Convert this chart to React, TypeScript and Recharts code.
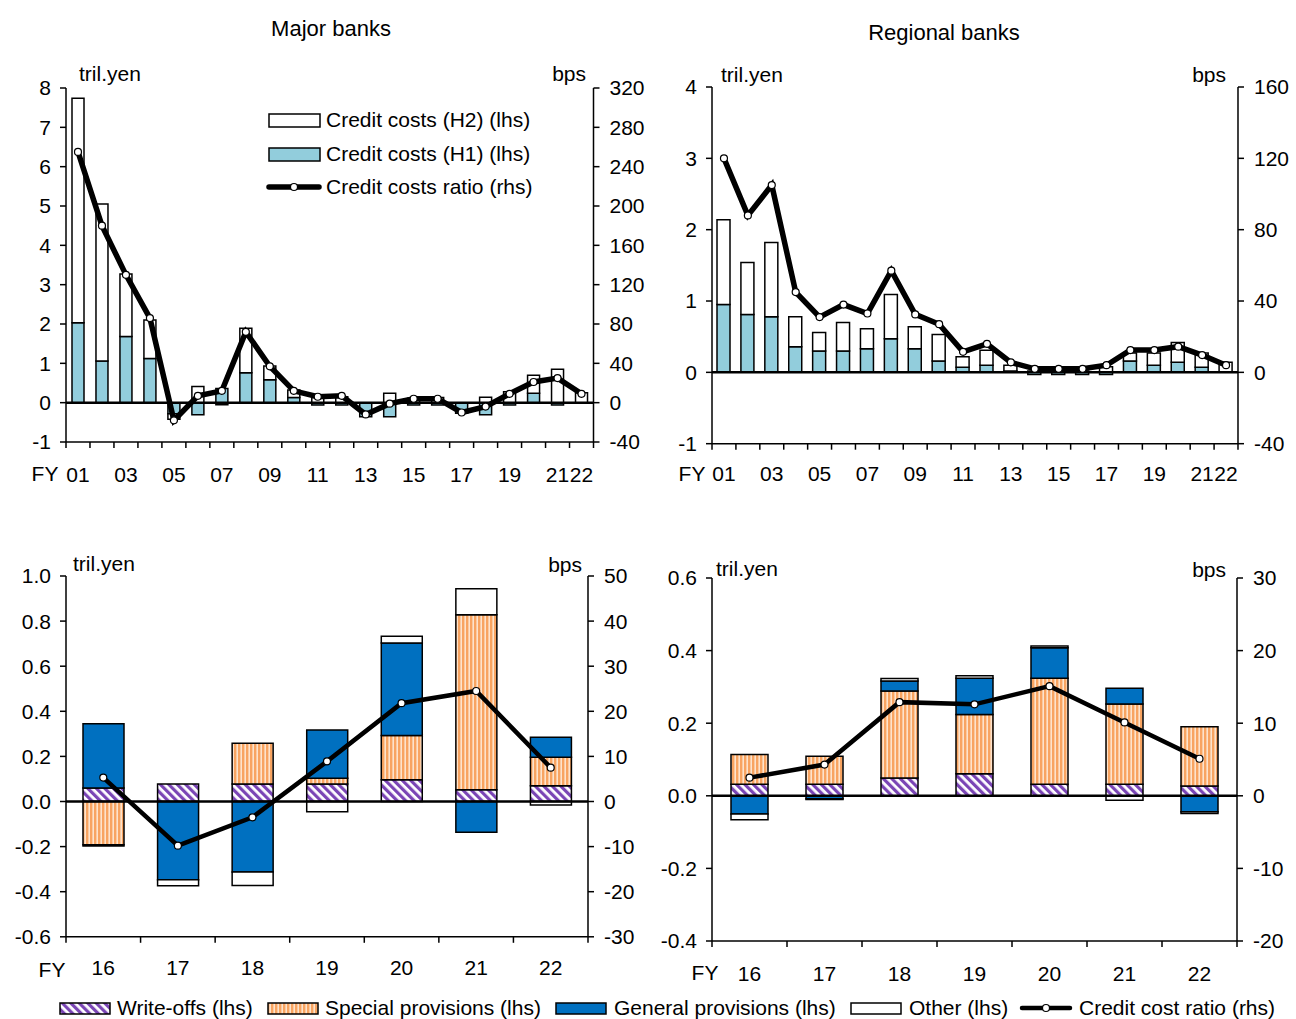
import React from 'react';
import { ComposedChart, Bar, Line, XAxis, YAxis, ReferenceLine } from 'recharts';

const FONT = '"Liberation Sans", Arial, sans-serif';

// ---------- Data: top panels (FY01-FY22) ----------
const fyLong = ['01', '02', '03', '04', '05', '06', '07', '08', '09', '10', '11', '12', '13', '14', '15', '16', '17', '18', '19', '20', '21', '22'];
const majorH1 = [2.03, 1.06, 1.68, 1.12, -0.28, -0.31, 0.36, 0.76, 0.58, 0.13, -0.06, -0.06, -0.36, -0.36, -0.06, -0.06, -0.27, -0.31, -0.06, 0.24, -0.06, 0.0];
const majorH2 = [5.71, 3.99, 1.59, 0.98, -0.14, 0.41, -0.05, 1.13, 0.35, 0.19, 0.13, 0.15, 0.0, 0.24, 0.11, 0.13, 0.0, 0.14, 0.28, 0.46, 0.85, 0.25];
const majorRatio = [255, 180, 130, 86, -18, 7, 12, 72, 37, 12, 6, 7, -12, -1, 4, 4, -10, -4, 9, 21, 25, 9];

const regionalH1 = [0.95, 0.81, 0.78, 0.36, 0.3, 0.3, 0.33, 0.47, 0.33, 0.16, 0.07, 0.1, 0.02, -0.03, -0.03, -0.03, -0.03, 0.16, 0.1, 0.14, 0.07, 0.0];
const regionalH2 = [1.19, 0.73, 1.04, 0.42, 0.26, 0.4, 0.28, 0.62, 0.31, 0.37, 0.15, 0.21, 0.08, 0.02, 0.02, 0.02, 0.08, 0.11, 0.17, 0.28, 0.2, 0.14];
const regionalRatio = [120, 88, 105, 45, 31, 38, 33, 57, 32.5, 27, 11.5, 16, 5.6, 2, 2, 2, 4, 12.5, 12.5, 14.4, 9.7, 4];

// ---------- Data: bottom panels (FY16-FY22) ----------
const fyShort = ['16', '17', '18', '19', '20', '21', '22'];
const majorWriteOffs = [0.06, 0.078, 0.078, 0.078, 0.096, 0.052, 0.07];
const majorSpecial = [-0.192, 0.0, 0.18, 0.025, 0.197, 0.776, 0.126];
const majorGeneral = [0.285, -0.347, -0.313, 0.214, 0.41, -0.136, 0.089];
const majorOther = [-0.005, -0.027, -0.06, -0.045, 0.03, 0.115, -0.015];
const majorCostRatio = [5.3, -9.8, -3.5, 8.9, 21.8, 24.5, 7.5];

const regionalWriteOffs = [0.032, 0.032, 0.049, 0.061, 0.032, 0.032, 0.027];
const regionalSpecial = [0.082, 0.077, 0.24, 0.163, 0.292, 0.221, 0.163];
const regionalGeneral = [-0.05, -0.008, 0.027, 0.1, 0.084, 0.043, -0.044];
const regionalOther = [-0.016, -0.002, 0.007, 0.007, 0.005, -0.012, -0.005];
const regionalCostRatio = [2.5, 4.3, 12.9, 12.6, 15.1, 10.1, 5.1];

// ---------- Axis ticks ----------
const tlLeftTicks = [-1, 0, 1, 2, 3, 4, 5, 6, 7, 8];
const tlRightTicks = [-40, 0, 40, 80, 120, 160, 200, 240, 280, 320];
const trLeftTicks = [-1, 0, 1, 2, 3, 4];
const trRightTicks = [-40, 0, 40, 80, 120, 160];
const blLeftTicks = [-0.6, -0.4, -0.2, 0, 0.2, 0.4, 0.6, 0.8, 1.0];
const blRightTicks = [-30, -20, -10, 0, 10, 20, 30, 40, 50];
const brLeftTicks = [-0.4, -0.2, 0, 0.2, 0.4, 0.6];
const brRightTicks = [-20, -10, 0, 10, 20, 30];
const longLabelsShown = ['01', '03', '05', '07', '09', '11', '13', '15', '17', '19', '21', '22'];

const majorTop = fyLong.map((y, i) => ({ year: y, h1: majorH1[i], h2: majorH2[i], ratio: majorRatio[i] }));
const regionalTop = fyLong.map((y, i) => ({ year: y, h1: regionalH1[i], h2: regionalH2[i], ratio: regionalRatio[i] }));
const majorBottom = fyShort.map((y, i) => ({
  year: y, wo: majorWriteOffs[i], sp: majorSpecial[i], gp: majorGeneral[i], ot: majorOther[i], ratio: majorCostRatio[i],
}));
const regionalBottom = fyShort.map((y, i) => ({
  year: y, wo: regionalWriteOffs[i], sp: regionalSpecial[i], gp: regionalGeneral[i], ot: regionalOther[i], ratio: regionalCostRatio[i],
}));

const H1_COLOR = '#92CDDC';
const GEN_COLOR = '#0070C0';

type BarDef = { key: string; fill: string };

type PanelProps = {
  left: number; right: number; top: number; bottom: number;
  data: any[];
  leftDomain: [number, number]; leftTicks: number[];
  rightDomain: [number, number]; rightTicks: number[];
  fmt?: (v: number) => string;
  bars: BarDef[];
  barSize: number;
  lineWidth: number;
  labelDy: number;
  shown: string[];
};

const Panel = (p: PanelProps) => {
  const padX = 60;
  const padTop = 20;
  const padBottom = 50;
  const plotW = p.right - p.left;
  const plotH = p.bottom - p.top;
  const width = plotW + padX * 2;
  const height = plotH + padTop + padBottom;
  const n = p.data.length;
  const band = plotW / n;

  const XTick = (props: any) => {
    const { x, y, payload, index } = props;
    return (
      <g>
        <line x1={x - band / 2} x2={x - band / 2} y1={y} y2={y + 6} stroke="#000" strokeWidth={1.5} />
        {index === n - 1 && <line x1={x + band / 2} x2={x + band / 2} y1={y} y2={y + 6} stroke="#000" strokeWidth={1.5} />}
        {p.shown.includes(payload.value) && (
          <text x={x} y={y + p.labelDy} textAnchor="middle" dominantBaseline="central" fontSize={21} fill="#000" fontFamily={FONT}>
            {payload.value}
          </text>
        )}
      </g>
    );
  };

  const tickStyle = { fontSize: 21, fill: '#000', fontFamily: FONT };

  return (
    <div style={{ position: 'absolute', left: p.left - padX, top: p.top - padTop }}>
      <ComposedChart
        width={width}
        height={height}
        data={p.data}
        stackOffset="sign"
        margin={{ top: padTop, right: 0, bottom: 0, left: 0 }}
      >
        <XAxis
          dataKey="year"
          height={padBottom}
          interval={0}
          tickSize={0}
          tickMargin={0}
          tickLine={false}
          axisLine={{ stroke: '#000', strokeWidth: 1.5 }}
          tick={<XTick />}
        />
        <YAxis
          yAxisId="left"
          orientation="left"
          width={padX}
          domain={p.leftDomain}
          ticks={p.leftTicks}
          interval={0}
          allowDataOverflow
          tickFormatter={p.fmt}
          tick={tickStyle}
          tickSize={6}
          tickMargin={9}
          axisLine={{ stroke: '#000', strokeWidth: 1.5 }}
          tickLine={{ stroke: '#000', strokeWidth: 1.5 }}
        />
        <YAxis
          yAxisId="right"
          orientation="right"
          width={padX}
          domain={p.rightDomain}
          ticks={p.rightTicks}
          interval={0}
          allowDataOverflow
          tick={tickStyle}
          tickSize={6}
          tickMargin={10}
          axisLine={{ stroke: '#000', strokeWidth: 1.5 }}
          tickLine={{ stroke: '#000', strokeWidth: 1.5 }}
        />
        {p.bars.map((b) => (
          <Bar
            key={b.key}
            dataKey={b.key}
            stackId="a"
            yAxisId="left"
            fill={b.fill}
            stroke="#000"
            strokeWidth={1.5}
            barSize={p.barSize}
            isAnimationActive={false}
          />
        ))}
        <ReferenceLine y={0} yAxisId="left" stroke="#000" strokeWidth={2.5} />
        <Line
          type="linear"
          dataKey="ratio"
          yAxisId="right"
          stroke="#000"
          strokeWidth={p.lineWidth}
          dot={{ r: 3.5, fill: '#fff', stroke: '#000', strokeWidth: 1.2 }}
          activeDot={false}
          isAnimationActive={false}
        />
      </ComposedChart>
    </div>
  );
};

const Txt = ({ x, y, children, size = 21, anchor = 'left' }: any) => {
  const style: React.CSSProperties = {
    position: 'absolute',
    top: y - 14,
    height: 28,
    lineHeight: '28px',
    fontSize: size,
    fontFamily: FONT,
    color: '#000',
    whiteSpace: 'nowrap',
  };
  if (anchor === 'left') style.left = x;
  else if (anchor === 'right') style.right = 1296 - x;
  else {
    style.left = x - 200;
    style.width = 400;
    style.textAlign = 'center';
  }
  return <div style={style}>{children}</div>;
};

const Swatch = ({ x, y, fill, w = 50, h = 12 }: any) => (
  <svg style={{ position: 'absolute', left: x, top: y - h / 2 - 1 }} width={w + 2} height={h + 2}>
    <rect x={1} y={1} width={w} height={h} fill={fill} stroke="#000" strokeWidth={1.5} />
  </svg>
);

const LineSwatch = ({ x, y, w = 52, sw = 5 }: any) => (
  <svg style={{ position: 'absolute', left: x, top: y - 8 }} width={w} height={16}>
    <line x1={3} x2={w - 3} y1={8} y2={8} stroke="#000" strokeWidth={sw} strokeLinecap="round" />
    <circle cx={w / 2} cy={8} r={3.5} fill="#fff" stroke="#000" strokeWidth={1.2} />
  </svg>
);

export default function App() {
  const f1 = (v: number) => v.toFixed(1);
  return (
    <div style={{ position: 'absolute', left: 0, top: 0, width: 1296, height: 1019, background: '#fff', overflow: 'hidden' }}>
      <svg width={0} height={0} style={{ position: 'absolute' }}>
        <defs>
          <pattern id="woPat" width={6} height={6} patternUnits="userSpaceOnUse" patternTransform="rotate(-45)">
            <rect width={6} height={6} fill="#fff" />
            <rect width={3.2} height={6} fill="#7A45B5" />
          </pattern>
          <pattern id="spPat" width={4} height={4} patternUnits="userSpaceOnUse">
            <rect width={4} height={4} fill="#FDE3CC" />
            <rect width={2.4} height={4} fill="#F8A461" />
          </pattern>
        </defs>
      </svg>

      {/* Titles */}
      <Txt x={331} y={29} size={22} anchor="center">Major banks</Txt>
      <Txt x={944} y={33} size={22} anchor="center">Regional banks</Txt>

      {/* Top-left */}
      <Panel
        left={65.5} right={593} top={88} bottom={442}
        data={majorTop}
        leftDomain={[-1, 8]} leftTicks={tlLeftTicks}
        rightDomain={[-40, 320]} rightTicks={tlRightTicks}
        bars={[{ key: 'h1', fill: H1_COLOR }, { key: 'h2', fill: '#fff' }]}
        barSize={12}
        lineWidth={5.5}
        labelDy={32}
        shown={longLabelsShown}
      />
      <Txt x={79} y={74}>tril.yen</Txt>
      <Txt x={586} y={74} anchor="right">bps</Txt>
      <Txt x={45} y={474} anchor="center">FY</Txt>

      {/* Top-left legend */}
      <Swatch x={268} y={120} w={51} h={13} fill="#fff" />
      <Txt x={326} y={120}>Credit costs (H2) (lhs)</Txt>
      <Swatch x={268} y={154} w={51} h={13} fill={H1_COLOR} />
      <Txt x={326} y={154}>Credit costs (H1) (lhs)</Txt>
      <LineSwatch x={266} y={187} w={56} sw={5.5} />
      <Txt x={326} y={187}>Credit costs ratio (rhs)</Txt>

      {/* Top-right */}
      <Panel
        left={711.5} right={1237.5} top={87} bottom={443.7}
        data={regionalTop}
        leftDomain={[-1, 4]} leftTicks={trLeftTicks}
        rightDomain={[-40, 160]} rightTicks={trRightTicks}
        bars={[{ key: 'h1', fill: H1_COLOR }, { key: 'h2', fill: '#fff' }]}
        barSize={13}
        lineWidth={5.5}
        labelDy={30}
        shown={longLabelsShown}
      />
      <Txt x={721} y={75}>tril.yen</Txt>
      <Txt x={1226} y={75} anchor="right">bps</Txt>
      <Txt x={692} y={474} anchor="center">FY</Txt>

      {/* Bottom-left */}
      <Panel
        left={65.5} right={587.5} top={576.2} bottom={937}
        data={majorBottom}
        leftDomain={[-0.6, 1.0]} leftTicks={blLeftTicks}
        rightDomain={[-30, 50]} rightTicks={blRightTicks}
        fmt={f1}
        bars={[
          { key: 'wo', fill: 'url(#woPat)' },
          { key: 'sp', fill: 'url(#spPat)' },
          { key: 'gp', fill: GEN_COLOR },
          { key: 'ot', fill: '#fff' },
        ]}
        barSize={41}
        lineWidth={4.5}
        labelDy={31}
        shown={fyShort}
      />
      <Txt x={73} y={564}>tril.yen</Txt>
      <Txt x={582} y={565} anchor="right">bps</Txt>
      <Txt x={52} y={970} anchor="center">FY</Txt>

      {/* Bottom-right */}
      <Panel
        left={711.7} right={1236.7} top={577.9} bottom={940.9}
        data={regionalBottom}
        leftDomain={[-0.4, 0.6]} leftTicks={brLeftTicks}
        rightDomain={[-20, 30]} rightTicks={brRightTicks}
        fmt={f1}
        bars={[
          { key: 'wo', fill: 'url(#woPat)' },
          { key: 'sp', fill: 'url(#spPat)' },
          { key: 'gp', fill: GEN_COLOR },
          { key: 'ot', fill: '#fff' },
        ]}
        barSize={37}
        lineWidth={4.5}
        labelDy={32}
        shown={fyShort}
      />
      <Txt x={716} y={569}>tril.yen</Txt>
      <Txt x={1226} y={570} anchor="right">bps</Txt>
      <Txt x={705} y={973} anchor="center">FY</Txt>

      {/* Bottom legend */}
      <Swatch x={59} y={1008} w={50} h={11} fill="url(#woPat)" />
      <Txt x={117} y={1008}>Write-offs (lhs)</Txt>
      <Swatch x={267} y={1008} w={50} h={11} fill="url(#spPat)" />
      <Txt x={325} y={1008}>Special provisions (lhs)</Txt>
      <Swatch x={555} y={1008} w={50} h={11} fill={GEN_COLOR} />
      <Txt x={614} y={1008}>General provisions (lhs)</Txt>
      <Swatch x={850} y={1008} w={50} h={11} fill="#fff" />
      <Txt x={909} y={1008}>Other (lhs)</Txt>
      <LineSwatch x={1019} y={1008} w={54} sw={4.5} />
      <Txt x={1079} y={1008}>Credit cost ratio (rhs)</Txt>
    </div>
  );
}
